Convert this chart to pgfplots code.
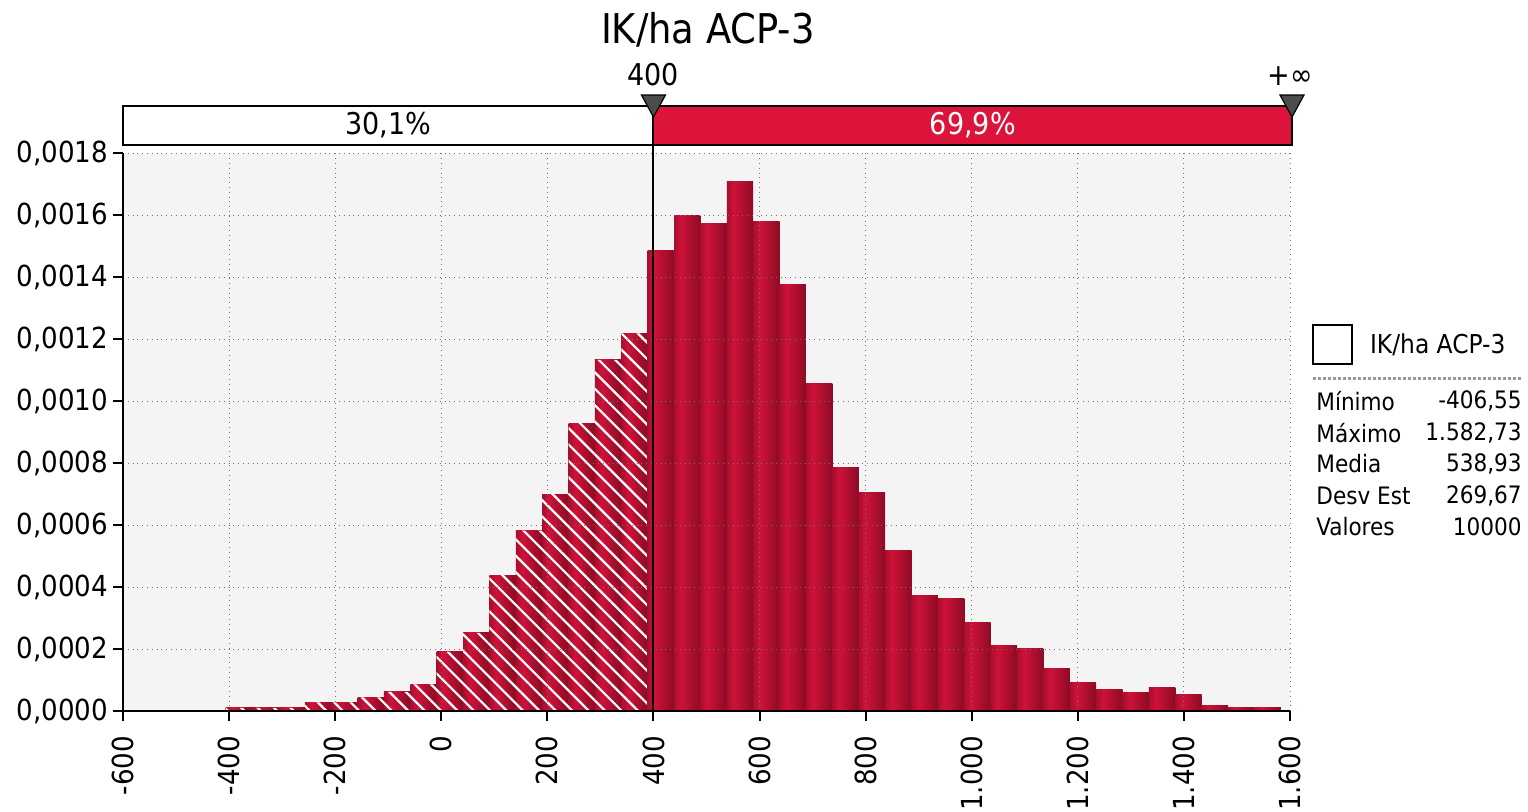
\documentclass[border=0pt]{standalone}
\usepackage{fontspec}
\setmainfont{DejaVu Sans Condensed}
\usepackage{pgfplots}
\pgfplotsset{compat=1.18}
\usetikzlibrary{patterns.meta}
\definecolor{crim}{HTML}{DC143C}
\definecolor{barA}{HTML}{A80E2E}
\definecolor{barB}{HTML}{CE1239}
\definecolor{barC}{HTML}{8C0B25}
\definecolor{bg}{HTML}{F4F4F4}
\pgfdeclarehorizontalshading{barshade}{100bp}{color(0bp)=(barA); color(25bp)=(barA); color(38bp)=(barB); color(75bp)=(barC); color(100bp)=(barC)}
\pgfplotsset{sbar/.style={ybar, bar width=49.732, bar shift=0pt, draw=none, shade, shading=barshade}}
\newcommand{\bb}[2]{\addplot[sbar] coordinates {(#1,#2)};}
\begin{document}
\begin{tikzpicture}
\useasboundingbox (-61.5pt,-50pt) rectangle (702.5pt,355.5pt);
\begin{axis}[
 at={(0pt,0pt)}, anchor=south west,
 scale only axis, width=583.5pt, height=279pt,
 xmin=-600, xmax=1600, ymin=0, ymax=0.0018,
 axis x line*=bottom, axis y line*=left,
 axis line style={line width=1pt, -},
 axis background/.style={fill=bg},
 axis on top,
 xtick={-600,-400,...,1600},
 ytick={0,0.0002,0.0004,0.0006,0.0008,0.0010,0.0012,0.0014,0.0016,0.0018},
 scaled y ticks=false,
 grid=major,
 grid style={dotted, black!55, line width=0.5pt},
 tick align=outside, major tick length=5pt,
 tick style={black, line width=1pt},
 /pgf/number format/assume math mode=true,
 /pgf/number format/1000 sep={.},
 xticklabel shift=4pt,
 yticklabel shift=-1pt,
 xticklabel style={rotate=90, anchor=east, font=\fontsize{14.5}{16}\selectfont},
 yticklabel style={font=\fontsize{14.5}{16}\selectfont},
 yticklabel={\pgfmathprintnumber[fixed,fixed zerofill,precision=4,use comma]{\tick}},
]
% bins below 400 (hatched)
\bb{-381.684}{0.00001} \bb{-331.952}{0.00001} \bb{-282.22}{0.00001} \bb{-232.488}{0.000028}
\bb{-182.756}{0.000028} \bb{-133.024}{0.000044} \bb{-83.292}{0.000062} \bb{-33.56}{0.000086}
\bb{16.172}{0.000191} \bb{65.904}{0.000252} \bb{115.636}{0.000438} \bb{165.368}{0.000582}
\bb{215.1}{0.0007} \bb{264.832}{0.000929} \bb{314.564}{0.001133} \bb{364.296}{0.001218}
\addplot[ybar, bar width=49.732, bar shift=0pt, draw=none,
  pattern={Lines[angle=-45,distance=5.8pt,line width=1.1pt]}, pattern color=white]
 coordinates {
 (-381.684,0.00001) (-331.952,0.00001) (-282.22,0.00001) (-232.488,0.000028)
 (-182.756,0.000028) (-133.024,0.000044) (-83.292,0.000062) (-33.56,0.000086)
 (16.172,0.000191) (65.904,0.000252) (115.636,0.000438) (165.368,0.000582)
 (215.1,0.0007) (264.832,0.000929) (314.564,0.001133) (364.296,0.001218)
 };
% bins from 400 on (solid)
\bb{414.028}{0.001487} \bb{463.76}{0.001598} \bb{513.492}{0.001571} \bb{563.224}{0.001707}
\bb{612.956}{0.001579} \bb{662.688}{0.001376} \bb{712.42}{0.001058} \bb{762.152}{0.000784}
\bb{811.884}{0.000706} \bb{861.616}{0.000519} \bb{911.348}{0.000371} \bb{961.08}{0.000363}
\bb{1010.812}{0.000287} \bb{1060.544}{0.000212} \bb{1110.276}{0.000203} \bb{1160.008}{0.000137}
\bb{1209.74}{0.000093} \bb{1259.472}{0.00007} \bb{1309.204}{0.00006} \bb{1358.936}{0.000077}
\bb{1408.668}{0.000053} \bb{1458.4}{0.000018} \bb{1508.132}{0.00001} \bb{1557.864}{0.00001}
\end{axis}
% threshold line
\draw[line width=1pt] (265.23pt,0pt) -- (265.23pt,283pt);
% band
\fill[white] (0pt,283pt) rectangle (265.23pt,302.5pt);
\fill[crim] (265.23pt,283pt) rectangle (584.5pt,302.5pt);
\draw[line width=1pt] (0pt,283pt) rectangle (584.5pt,302.5pt);
\draw[line width=1pt] (265.23pt,283pt) -- (265.23pt,302.5pt);
\node[font=\fontsize{15}{18}\selectfont] at (132.6pt,292.75pt) {30,1\%};
\node[font=\fontsize{15}{18}\selectfont, text=white] at (424.9pt,292.75pt) {69,9\%};
% markers
\filldraw[fill=black!70, draw=black, line width=0.6pt] (259.23pt,308pt) -- (271.23pt,308pt) -- (265.23pt,297pt) -- cycle;
\filldraw[fill=black!70, draw=black, line width=0.6pt] (578.5pt,308pt) -- (590.5pt,308pt) -- (584.5pt,297pt) -- cycle;
\node[font=\fontsize{15}{18}\selectfont] at (265pt,318pt) {400};
\node[font=\fontsize{15}{18}\selectfont] at (583.5pt,317.5pt) {+∞};
% title
\node[anchor=west, font=\fontsize{20.5}{24}\selectfont] at (235.5pt,340.5pt) {IK/ha ACP-3};
% legend
\draw[line width=1pt, fill=white] (595pt,173.5pt) rectangle (614.5pt,193pt);
\node[anchor=west, font=\fontsize{13}{15}\selectfont] at (620pt,183pt) {IK/ha ACP-3};
\draw[line width=1.5pt, black!40, densely dotted] (595pt,166.5pt) -- (700pt,166.5pt);
\begin{scope}[every node/.style={font=\fontsize{12}{14}\selectfont, inner sep=0pt}]
\node[anchor=west] at (596.5pt,155pt) {Mínimo};
\node[anchor=west] at (596.5pt,139pt) {Máximo};
\node[anchor=west] at (596.5pt,123.5pt) {Media};
\node[anchor=west] at (596.5pt,107.5pt) {Desv Est};
\node[anchor=west] at (596.5pt,92pt) {Valores};
\node[anchor=east] at (699.5pt,155pt) {-406,55};
\node[anchor=east] at (699.5pt,139pt) {1.582,73};
\node[anchor=east] at (699.5pt,123.5pt) {538,93};
\node[anchor=east] at (699.5pt,107.5pt) {269,67};
\node[anchor=east] at (699.5pt,92pt) {10000};
\end{scope}
\end{tikzpicture}
\end{document}
